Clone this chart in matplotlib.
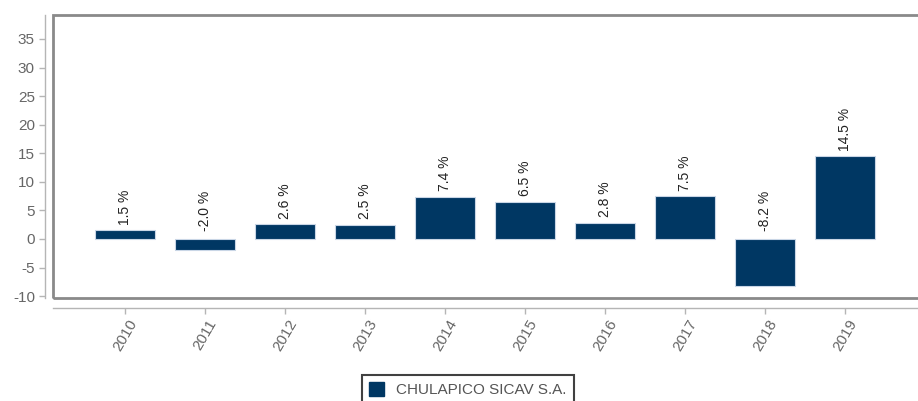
import matplotlib.pyplot as plt
from matplotlib.patches import Rectangle

plt.rcParams['font.family'] = ['Liberation Sans', 'DejaVu Sans']
plt.rcParams['axes.unicode_minus'] = False

# ---- data ----
years = ['2010', '2011', '2012', '2013', '2014', '2015', '2016', '2017', '2018', '2019']
returns = [1.5, -2.0, 2.6, 2.5, 7.4, 6.5, 2.8, 7.5, -8.2, 14.5]
series_name = 'CHULAPICO SICAV S.A.'
y_ticks = [-10, -5, 0, 5, 10, 15, 20, 25, 30, 35]

bar_color = '#003763'
W, H = 918, 401

fig = plt.figure(figsize=(W / 100, H / 100), dpi=100)
# plot area in pixels: left 53, right ~921 (cut by image), top 15, bottom 298
ax = fig.add_axes([53 / W, (H - 298) / H, (921 - 53) / W, (298 - 15) / H])

x = list(range(len(years)))
ax.bar(x, returns, width=0.75, color=bar_color, edgecolor='#c9d6e6', linewidth=0.8, zorder=2)

for xi, v in zip(x, returns):
    ax.annotate(f'{v:.1f} %', (xi, max(v, 0)), xytext=(0, 4 if v >= 0 else 6),
                textcoords='offset points', rotation=90, ha='center', va='bottom',
                fontsize=10, color='#222222')

ax.set_xlim(-0.9, 9.95)
ax.set_ylim(-10.33, 39.2)
ax.set_yticks(y_ticks)
ax.set_xticks(x)
ax.set_xticklabels(years)

# gray frame around the plot area
ax.add_patch(Rectangle((0, 0), 1, 1, transform=ax.transAxes, fill=False,
                       edgecolor='#8a8a8a', linewidth=2, clip_on=False, zorder=3))

for s in ['top', 'right']:
    ax.spines[s].set_visible(False)
ax.spines['left'].set_position(('outward', 6))
ax.spines['bottom'].set_position(('outward', 7))
for s in ['left', 'bottom']:
    ax.spines[s].set_color('#b5b5b5')
    ax.spines[s].set_linewidth(1)

ax.tick_params(axis='both', colors='#b5b5b5', labelcolor='#666666', labelsize=11, length=4, width=1)
ax.tick_params(axis='x', pad=3, labelrotation=60)
ax.tick_params(axis='y', pad=3)
for lbl in ax.get_xticklabels():
    lbl.set_ha('center')
    lbl.set_va('top')

handle = Rectangle((0, 0), 1, 1, color=bar_color)
leg = fig.legend([handle], [series_name], loc='upper left', bbox_to_anchor=(362 / W, 1 - 375 / H),
                 frameon=True, fancybox=False, fontsize=11, handlelength=1.0, handleheight=1.0,
                 borderpad=0.45, handletextpad=0.8, borderaxespad=0)
leg.get_frame().set_edgecolor('#111111')
leg.get_frame().set_linewidth(1.5)
for t in leg.get_texts():
    t.set_color('#555555')

fig.savefig('out.png', dpi=100)
